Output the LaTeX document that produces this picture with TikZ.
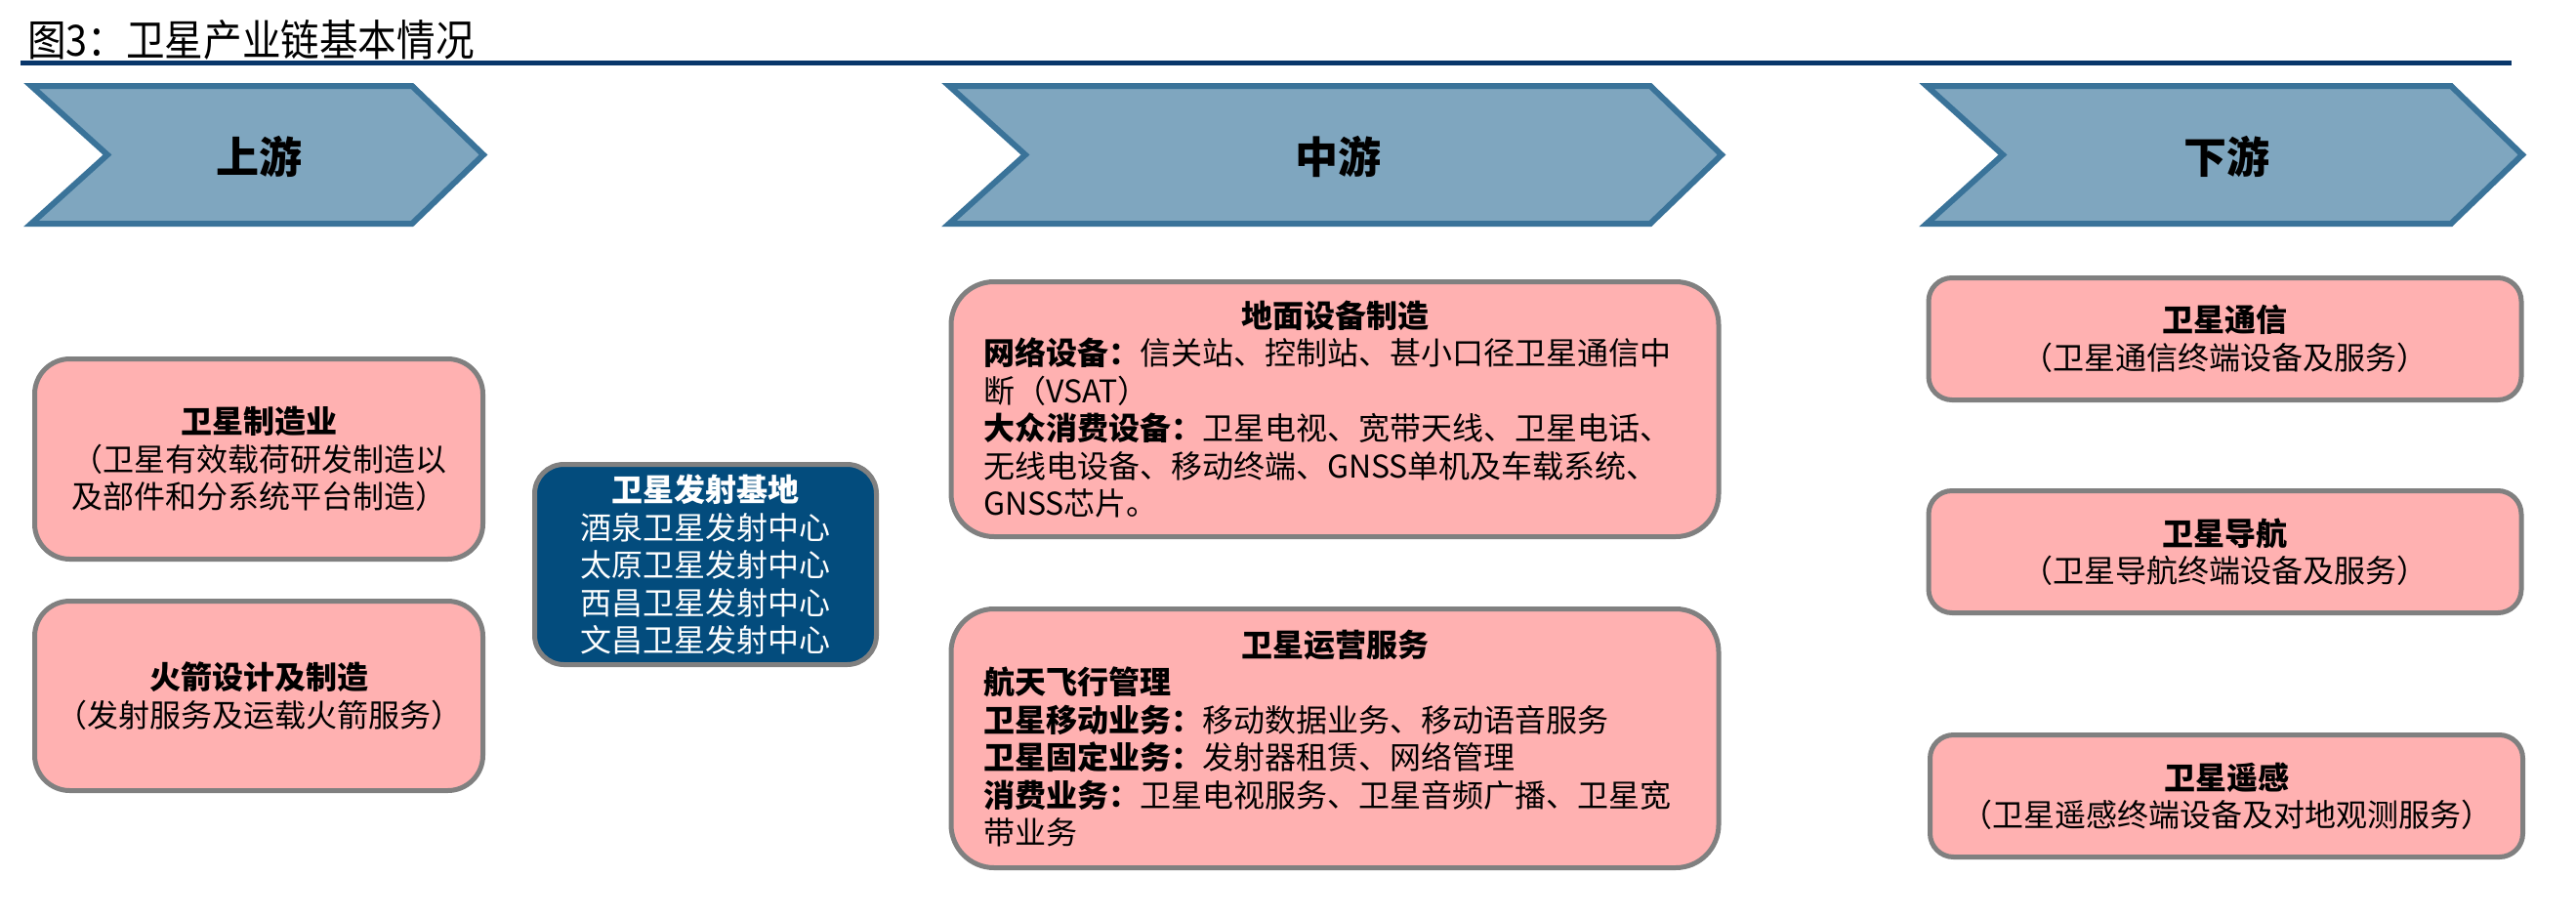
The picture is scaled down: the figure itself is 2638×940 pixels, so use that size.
\documentclass[tikz,border=0pt]{standalone}
\usepackage{fontspec}
\setmainfont{Noto Sans CJK SC}
\newfontfamily\headfont{Noto Sans CJK SC}[FakeStretch=0.9]
\definecolor{chevfill}{HTML}{7FA6BF}
\definecolor{chevline}{HTML}{3A7399}
\definecolor{boxpink}{HTML}{FFB1B1}
\definecolor{boxgrey}{HTML}{808080}
\definecolor{basenavy}{HTML}{034C7D}
\definecolor{titlenavy}{HTML}{08366A}
\begin{document}
\begin{tikzpicture}[x=1pt,y=-1pt]
        \tikzstyle{chev}=[draw=chevline, fill=chevfill, line width=6pt, line join=miter]
        \tikzstyle{chevtext}=[font=\fontsize{44}{50}\selectfont\bfseries]
        \tikzstyle{box}=[draw=boxgrey, line width=5pt, inner sep=0pt, font=\fontsize{32}{38.5}\selectfont]
        \tikzstyle{pinkbox}=[box, fill=boxpink, align=center]
        \useasboundingbox (0,0) rectangle (2638,940);
            % title and rule
            \node[anchor=base west, inner sep=0pt, font=\headfont\fontsize{44}{50}\selectfont] (title) at (28,57) {图3：卫星产业链基本情况};
            \draw[titlenavy, line width=5pt] (21,64.5) -- (2572,64.5);
            % chevrons
            \draw[chev] (32,88) -- (422,88) -- (495,158.5) -- (422,229) -- (32,229) -- (110,158.5) -- cycle;
            \draw[chev] (972,88) -- (1690,88) -- (1763,158.5) -- (1690,229) -- (972,229) -- (1050,158.5) -- cycle;
            \draw[chev] (1973,88) -- (2510,88) -- (2583,158.5) -- (2510,229) -- (1973,229) -- (2051,158.5) -- cycle;
            \node[chevtext] (up) at (265,160) {上游};
            \node[chevtext] (mid) at (1370,160) {中游};
            \node[chevtext] (down) at (2280,160) {下游};
            % upstream
            \node[pinkbox, minimum width=459pt, minimum height=205pt, rounded corners=36pt] (sat) at (265,470) {\textbf{卫星制造业}\\（卫星有效载荷研发制造以\\及部件和分系统平台制造）};
            \node[pinkbox, minimum width=459pt, minimum height=194pt, rounded corners=36pt] (rocket) at (265,712.5) {\textbf{火箭设计及制造}\\（发射服务及运载火箭服务）};
            \node[box, fill=basenavy, text=white, align=center, minimum width=350pt, minimum height=205pt, rounded corners=30pt] (base) at (722.5,578) {\textbf{卫星发射基地}\\酒泉卫星发射中心\\太原卫星发射中心\\西昌卫星发射中心\\文昌卫星发射中心};
            % midstream
            \node[pinkbox, align=left, text width=720pt, minimum width=786pt, minimum height=261pt, rounded corners=44pt] (ground) at (1367,419) {\makebox[720pt]{\bfseries 地面设备制造}\\\textbf{网络设备：}信关站、控制站、甚小口径卫星通信中\\断（VSAT）\\\textbf{大众消费设备：}卫星电视、宽带天线、卫星电话、\\无线电设备、移动终端、GNSS单机及车载系统、\\GNSS芯片。};
            \node[pinkbox, align=left, text width=720pt, minimum width=786pt, minimum height=265pt, rounded corners=44pt] (oper) at (1367,756) {\makebox[720pt]{\bfseries 卫星运营服务}\\\textbf{航天飞行管理}\\\textbf{卫星移动业务：}移动数据业务、移动语音服务\\\textbf{卫星固定业务：}发射器租赁、网络管理\\\textbf{消费业务：}卫星电视服务、卫星音频广播、卫星宽\\带业务};
            % downstream
            \node[pinkbox, minimum width=607pt, minimum height=125pt, rounded corners=24pt] (comm) at (2278.5,347) {\textbf{卫星通信}\\（卫星通信终端设备及服务）};
            \node[pinkbox, minimum width=607pt, minimum height=125pt, rounded corners=24pt] (nav) at (2278.5,565) {\textbf{卫星导航}\\（卫星导航终端设备及服务）};
            \node[pinkbox, minimum width=607pt, minimum height=125pt, rounded corners=24pt] (sense) at (2280,815) {\textbf{卫星遥感}\\（卫星遥感终端设备及对地观测服务）};
        \end{tikzpicture}
\end{document}
